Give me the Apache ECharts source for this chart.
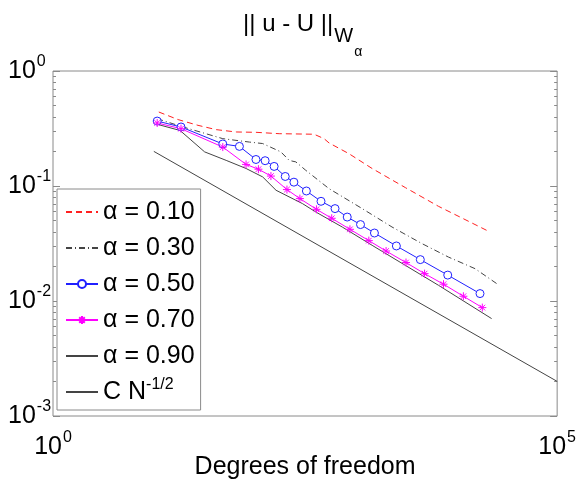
<!DOCTYPE html>
<html>
<head>
<meta charset="utf-8">
<title>|| u - U || in the weighted norm</title>
<script src="https://cdn.jsdelivr.net/npm/echarts@6/dist/echarts.min.js"></script>
<style>
  html, body { margin: 0; padding: 0; background: #fff; }
  #chart { width: 579px; height: 489px; }
</style>
</head>
<body>
<div id="chart"></div>
<script>
  // [degrees of freedom, error]
  const alpha10 = [[11.2, 0.440], [17.4, 0.378], [27.4, 0.337], [41.6, 0.309], [65.5, 0.295],
    [103, 0.293], [175, 0.285], [388, 0.282], [488, 0.258], [546, 0.237], [861, 0.191],
    [1462, 0.142], [3126, 0.0968], [6650, 0.0666], [19950, 0.0412]]
  const alpha30 = [[10.8, 0.385], [18.6, 0.330], [48.3, 0.258], [88.7, 0.241], [120, 0.234],
    [182, 0.198], [220, 0.167], [256, 0.162], [321, 0.137], [546, 0.0949], [1165, 0.0636],
    [2302, 0.0440], [4551, 0.0316], [8356, 0.0241], [15350, 0.0191], [25060, 0.0142]]
  const alpha50 = [[10.8, 0.367], [18.6, 0.326], [48.3, 0.232], [70.6, 0.221], [103, 0.170],
    [127, 0.166], [156, 0.148], [201, 0.121], [245, 0.108], [326, 0.0905], [455, 0.0736],
    [627, 0.0636], [828, 0.0537], [1122, 0.0462], [1542, 0.0390], [2544, 0.0301],
    [4395, 0.0229], [8222, 0.0168], [17180, 0.0116]]
  const alpha70 = [[10.8, 0.353], [18.6, 0.315], [48.3, 0.218], [82.2, 0.154], [109, 0.140],
    [145, 0.122], [209, 0.0931], [281, 0.0777], [410, 0.0627], [581, 0.0524], [881, 0.0420],
    [1356, 0.0335], [2011, 0.0272], [3169, 0.0216], [4842, 0.0173], [7464, 0.0140],
    [11750, 0.0110], [18110, 0.00876]]
  const alpha90 = [[10.8, 0.344], [18.2, 0.304], [31.9, 0.198], [52.2, 0.167], [82.2, 0.142],
    [120, 0.120], [163, 0.0918], [298, 0.0703], [404, 0.0594], [739, 0.0440], [1462, 0.0305],
    [3126, 0.0204], [6650, 0.0137], [22390, 0.00703]]
  const refLine = [[10, 0.2], [100000, 0.002]]

  const seriesNames = ['α = 0.10', 'α = 0.30', 'α = 0.50', 'α = 0.70', 'α = 0.90', 'C N-1/2']

  // tick positions, in powers of ten
  const xLabelExps = [0, 5]
  const yDecades = [-3, -2, -1, 0]
  const minorMults = [2, 3, 4, 5, 6, 7, 8, 9]

  const minorOf = decades =>
    decades.slice(0, -1).flatMap(d => minorMults.map(m => d + Math.log10(m)))

  const axisGray = '#8a8a8a'
  const lineGray = '#444'
  const font = 'Liberation Sans, Arial, Helvetica, sans-serif'

  const powRich = {
    b: { fontSize: 25, lineHeight: 40, color: '#000', fontFamily: font },
    s: { fontSize: 16, lineHeight: 16, verticalAlign: 'top', padding: [3, 0, 0, 1], color: '#000', fontFamily: font }
  }
  const powLabel = v => '{b|10}{s|' + v + '}'

  const tickAxis = (position, min, max, values, len, label) => ({
    type: 'value',
    position,
    min,
    max,
    axisLine: { show: false },
    splitLine: { show: false },
    axisLabel: label || { show: false },
    axisTick: {
      show: len > 0,
      inside: true,
      length: len,
      customValues: values,
      lineStyle: { color: axisGray, width: 1 }
    }
  })

  const asterisk = 'path://M0,5L10,5M5,0L5,10M1.5,1.5L8.5,8.5M8.5,1.5L1.5,8.5'
  const noMarker = { color: 'rgba(0,0,0,0)', borderWidth: 0 }

  const chart = echarts.init(document.getElementById('chart'))

  const option = {
    animation: false,
    textStyle: { fontFamily: font },
    title: {
      text: '{m||| u - U ||}{w|W}{a|α}',
      left: 243,
      top: 12,
      padding: 0,
      textStyle: {
        fontWeight: 'normal',
        rich: {
          m: { fontSize: 24, lineHeight: 26, verticalAlign: 'top', fontWeight: 'normal', color: '#000', fontFamily: font },
          w: { fontSize: 20, lineHeight: 20, verticalAlign: 'top', padding: [14, 0, 0, 1], fontWeight: 'normal', color: '#000', fontFamily: font },
          a: { fontSize: 14, lineHeight: 14, verticalAlign: 'top', padding: [33, 0, 0, 1], fontWeight: 'normal', color: '#000', fontFamily: font }
        }
      }
    },
    grid: {
      left: 53,
      right: 20,
      top: 71,
      bottom: 73,
      show: true,
      borderColor: axisGray,
      borderWidth: 1,
      backgroundColor: 'transparent'
    },
    legend: {
      orient: 'vertical',
      left: 57,
      top: 189,
      data: [
        { name: seriesNames[0], itemStyle: noMarker },
        { name: seriesNames[1], itemStyle: noMarker },
        { name: seriesNames[2] },
        { name: seriesNames[3] },
        { name: seriesNames[4], itemStyle: noMarker },
        { name: seriesNames[5], itemStyle: noMarker }
      ],
      backgroundColor: '#fff',
      borderColor: axisGray,
      borderWidth: 1,
      borderRadius: 0,
      padding: [8, 6, 3, 8],
      itemGap: 6,
      itemWidth: 32,
      itemHeight: 10,
      textStyle: {
        fontSize: 25,
        lineHeight: 30,
        color: '#000',
        fontFamily: font,
        rich: {
          t: { fontSize: 25, lineHeight: 30, color: '#000', fontFamily: font },
          s: { fontSize: 16, lineHeight: 16, verticalAlign: 'top', color: '#000', fontFamily: font }
        }
      },
      formatter: name => name === 'C N-1/2' ? '{t|C N}{s|-1/2}' : name
    },
    xAxis: [
      {
        type: 'log',
        min: 1,
        max: 100000,
        position: 'bottom',
        name: 'Degrees of freedom',
        nameLocation: 'middle',
        nameGap: 39,
        nameTextStyle: { fontSize: 25, color: '#000', fontFamily: font },
        axisLine: { show: false },
        axisTick: { show: false },
        axisLabel: { show: false },
        splitLine: { show: false }
      },
      tickAxis('bottom', 0, 5, xLabelExps, 0, {
        show: true,
        customValues: xLabelExps,
        margin: 11,
        formatter: powLabel,
        rich: powRich
      })
    ],
    yAxis: [
      {
        type: 'log',
        min: 0.001,
        max: 1,
        position: 'left',
        axisLine: { show: false },
        axisTick: { show: false },
        axisLabel: { show: false },
        splitLine: { show: false }
      },
      tickAxis('left', -3, 0, yDecades, 7, {
        show: true,
        customValues: yDecades,
        margin: 45,
        align: 'left',
        formatter: powLabel,
        rich: powRich
      }),
      tickAxis('left', -3, 0, minorOf(yDecades), 3),
      tickAxis('right', -3, 0, yDecades, 7),
      tickAxis('right', -3, 0, minorOf(yDecades), 3)
    ],
    series: [
      {
        name: seriesNames[0],
        type: 'line',
        data: alpha10,
        symbol: 'none',
        lineStyle: { color: '#ff2020', width: 1, type: [6, 4] },
        itemStyle: { color: '#ff2020' }
      },
      {
        name: seriesNames[1],
        type: 'line',
        data: alpha30,
        symbol: 'none',
        lineStyle: { color: lineGray, width: 1, type: [6, 3, 1, 3] },
        itemStyle: { color: lineGray }
      },
      {
        name: seriesNames[2],
        type: 'line',
        data: alpha50,
        symbol: 'circle',
        symbolSize: 8,
        lineStyle: { color: '#2020ff', width: 1 },
        itemStyle: { color: '#fff', borderColor: '#2020ff', borderWidth: 1 }
      },
      {
        name: seriesNames[3],
        type: 'line',
        data: alpha70,
        symbol: asterisk,
        symbolSize: 8,
        lineStyle: { color: '#ff00ff', width: 1 },
        itemStyle: { color: '#ff00ff', borderColor: '#ff00ff', borderWidth: 1 }
      },
      {
        name: seriesNames[4],
        type: 'line',
        data: alpha90,
        symbol: 'none',
        lineStyle: { color: lineGray, width: 1 },
        itemStyle: { color: lineGray }
      },
      {
        name: seriesNames[5],
        type: 'line',
        data: refLine,
        symbol: 'none',
        lineStyle: { color: lineGray, width: 1 },
        itemStyle: { color: lineGray }
      }
    ]
  }

  chart.setOption(option)
</script>
</body>
</html>
